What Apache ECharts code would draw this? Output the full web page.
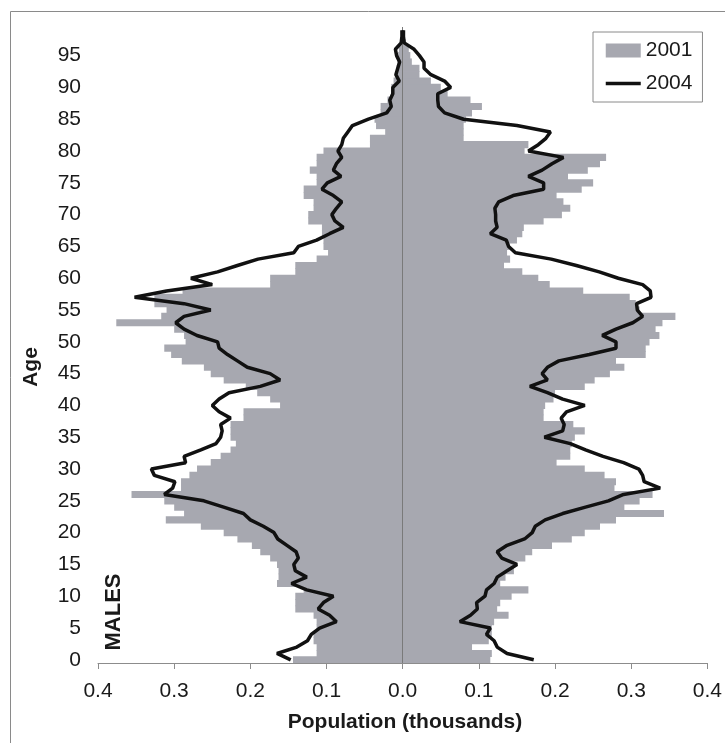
<!DOCTYPE html>
<html>
<head>
<meta charset="utf-8">
<script src="https://cdn.jsdelivr.net/npm/echarts@6/dist/echarts.min.js"></script>
<style>
html,body{margin:0;padding:0;background:#fff;}
#chart{width:725px;height:743px;}
</style>
</head>
<body>
<div id="chart"></div>
<script>
// Ages 0..99 (category axis, bottom to top)
var ages = [];
for (var i = 0; i < 100; i++) ages.push(String(i));

// Tick values of the population axis (thousands)
var popTicks = [-0.4, -0.3, -0.2, -0.1, 0.0, 0.1, 0.2, 0.3, 0.4];

// MALES 2001 (bars, magnitude), ages 0..99
var males2001 = [
 0.144,0.113,0.113,0.117,0.117,0.113,0.113,0.117,0.141,0.141,
 0.141,0.130,0.165,0.163,0.163,0.165,0.174,0.187,0.198,0.217,
 0.235,0.265,0.311,0.287,0.300,0.313,0.356,0.291,0.291,0.280,
 0.270,0.252,0.239,0.226,0.219,0.226,0.226,0.226,0.209,0.209,
 0.161,0.174,0.191,0.206,0.235,0.252,0.261,0.290,0.304,0.313,
 0.285,0.287,0.300,0.376,0.317,0.310,0.326,0.326,0.289,0.174,
 0.174,0.141,0.141,0.113,0.098,0.104,0.104,0.106,0.106,0.124,
 0.124,0.117,0.117,0.130,0.130,0.113,0.113,0.122,0.113,0.113,
 0.104,0.043,0.043,0.023,0.035,0.037,0.029,0.029,0.020,0.015,
 0.015,0.012,0.008,0.008,0.007,0.006,0.005,0.003,0,0
];
// MALES 2004 (line, magnitude)
var males2004 = [
 0.147,0.165,0.139,0.125,0.120,0.109,0.087,0.096,0.111,0.104,
 0.091,0.126,0.146,0.126,0.141,0.143,0.137,0.140,0.152,0.164,
 0.169,0.183,0.200,0.209,0.235,0.261,0.313,0.302,0.299,0.326,
 0.330,0.285,0.287,0.265,0.245,0.239,0.237,0.239,0.226,0.241,
 0.250,0.241,0.228,0.187,0.161,0.174,0.204,0.217,0.230,0.241,
 0.243,0.270,0.287,0.298,0.287,0.252,0.287,0.352,0.310,0.250,
 0.278,0.243,0.217,0.190,0.143,0.137,0.113,0.096,0.078,0.089,
 0.093,0.087,0.080,0.091,0.106,0.099,0.081,0.091,0.087,0.080,
 0.085,0.080,0.078,0.072,0.066,0.045,0.021,0.015,0.017,0.013,
 0.013,0.0045,0.009,0.0065,0.004,0.008,0.0096,0.002,0.001,0.001
];
// FEMALES 2001 (bars)
var females2001 = [
 0.115,0.117,0.091,0.113,0.117,0.117,0.120,0.139,0.124,0.128,
 0.143,0.165,0.128,0.135,0.146,0.146,0.161,0.170,0.196,0.222,
 0.239,0.259,0.280,0.343,0.291,0.311,0.328,0.278,0.280,0.265,
 0.239,0.202,0.220,0.220,0.222,0.226,0.239,0.224,0.185,0.185,
 0.187,0.198,0.200,0.239,0.252,0.272,0.291,0.280,0.319,0.319,
 0.324,0.337,0.332,0.341,0.358,0.311,0.306,0.298,0.237,0.193,
 0.178,0.157,0.133,0.141,0.137,0.140,0.150,0.157,0.159,0.185,
 0.209,0.220,0.211,0.202,0.235,0.250,0.217,0.243,0.259,0.267,
 0.160,0.165,0.080,0.080,0.080,0.083,0.091,0.104,0.089,0.059,
 0.050,0.037,0.022,0.022,0.012,0.010,0.008,0.004,0,0
];
// FEMALES 2004 (line)
var females2004 = [
 0.172,0.137,0.124,0.120,0.110,0.115,0.075,0.089,0.098,0.097,
 0.108,0.110,0.120,0.124,0.137,0.150,0.130,0.124,0.137,0.160,
 0.170,0.174,0.187,0.210,0.240,0.270,0.290,0.338,0.317,0.315,
 0.310,0.290,0.263,0.240,0.220,0.186,0.210,0.212,0.208,0.215,
 0.239,0.210,0.190,0.167,0.190,0.183,0.190,0.205,0.245,0.280,
 0.280,0.262,0.280,0.302,0.315,0.308,0.307,0.326,0.325,0.315,
 0.283,0.258,0.228,0.195,0.148,0.139,0.136,0.115,0.124,0.122,
 0.122,0.121,0.126,0.145,0.185,0.185,0.165,0.183,0.196,0.211,
 0.165,0.178,0.188,0.194,0.150,0.080,0.055,0.047,0.046,0.046,
 0.063,0.055,0.037,0.028,0.028,0.022,0.015,0.002,0.001,0.001
];

var FONT = '"Liberation Sans", Arial, sans-serif';
var BAR = '#a7a8b0';
var TXT = '#1a1a1a';

function neg(a){ return a.map(function(v){ return -v; }); }

var chart = echarts.init(document.getElementById('chart'), null, {renderer:'canvas'});
chart.setOption({
  animation: false,
  backgroundColor: '#ffffff',
  textStyle: { fontFamily: FONT },
  grid: { left: 98, right: 12, top: 27, bottom: 80, containLabel: false },
  legend: {
    data: [
      { name: '2001', icon: 'rect' },
      { name: '2004', itemStyle: { opacity: 0 }, lineStyle: { width: 3.5, color: '#111111' } }
    ],
    orient: 'vertical',
    left: 593, top: 32,
    itemWidth: 35, itemHeight: 14, itemGap: 12,
    padding: [8, 10, 8, 11],
    borderColor: '#8a8a8a', borderWidth: 1,
    backgroundColor: '#ffffff',
    textStyle: { fontSize: 21, color: TXT, fontFamily: FONT },
    selectedMode: false
  },
  xAxis: {
    type: 'value',
    min: popTicks[0], max: popTicks[popTicks.length - 1], interval: 0.1,
    axisLine: { show: true, lineStyle: { color: '#8c8c8c', width: 1 } },
    axisTick: { show: true, length: 6, lineStyle: { color: '#8c8c8c' } },
    axisLabel: {
      fontSize: 21, color: TXT, fontFamily: FONT, margin: 18,
      formatter: function (v) { return Math.abs(v).toFixed(1); }
    },
    splitLine: { show: false }
  },
  yAxis: {
    type: 'category',
    data: ages,
    axisLine: { show: false },
    axisTick: { show: false },
    axisLabel: { interval: 4, fontSize: 21, color: TXT, fontFamily: FONT, margin: 17 },
    splitLine: { show: false }
  },
  series: [
    {
      name: '2001', type: 'bar', stack: 'pop', data: neg(males2001),
      barWidth: '112%', z: 1,
      itemStyle: { color: BAR }
    },
    {
      name: '2001', type: 'bar', stack: 'pop', data: females2001,
      barWidth: '112%', z: 1,
      itemStyle: { color: BAR },
      markLine: {
        silent: true, symbol: ['none', 'none'], animation: false,
        label: { show: false },
        lineStyle: { color: '#7a7a7a', width: 1, type: 'solid' },
        data: [{ xAxis: 0 }]
      }
    },
    {
      name: '2004', type: 'line', data: neg(males2004),
      symbol: 'none', showSymbol: false, z: 5,
      lineStyle: { color: '#111111', width: 3.5 }, itemStyle: { color: '#111111' }
    },
    {
      name: '2004', type: 'line', data: females2004,
      symbol: 'none', showSymbol: false, z: 5,
      lineStyle: { color: '#111111', width: 3.5 }, itemStyle: { color: '#111111' }
    }
  ],
  graphic: [
    {
      type: 'rect', silent: true, z: 0,
      shape: { x: 10.5, y: 11.5, width: 800, height: 800 },
      style: { fill: 'none', stroke: '#8a8a8a', lineWidth: 1 }
    },
    {
      type: 'text', x: 31, y: 367, rotation: Math.PI / 2,
      style: { text: 'Age', fill: TXT, font: 'bold 21px ' + FONT, align: 'center', verticalAlign: 'middle' }
    },
    {
      type: 'text', x: 114, y: 612, rotation: Math.PI / 2, z: 10,
      style: { text: 'MALES', fill: TXT, font: 'bold 22px ' + FONT, align: 'center', verticalAlign: 'middle' }
    },
    {
      type: 'text', x: 405, y: 722,
      style: { text: 'Population (thousands)', fill: TXT, font: 'bold 21px ' + FONT, align: 'center', verticalAlign: 'middle' }
    }
  ]
});
</script>
</body>
</html>
